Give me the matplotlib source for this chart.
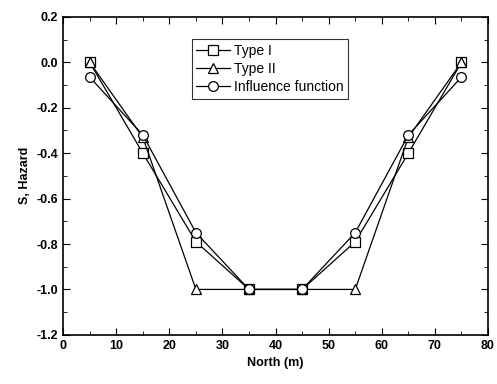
import matplotlib
matplotlib.use('Agg')
import matplotlib.pyplot as plt
from matplotlib.ticker import MultipleLocator

# Distanza lungo la sezione (m)
north = [5, 15, 25, 35, 45, 55, 65, 75]
# Valori
type_1 = [0.0, -0.40, -0.79, -1.0, -1.0, -0.79, -0.40, 0.0]
type_2 = [0.0, -0.33, -1.0, -1.0, -1.0, -1.0, -0.33, 0.0]
influence = [-0.065, -0.32, -0.75, -1.0, -1.0, -0.75, -0.32, -0.065]

plt.rcParams['font.family'] = ['Liberation Sans', 'DejaVu Sans']

fig = plt.figure(figsize=(4.97, 3.84), dpi=100)
ax = fig.add_axes([0.127, 0.128, 0.855, 0.828])

style = dict(color='black', lw=0.9, mfc='white', mec='black', mew=0.9, ms=7)
ax.plot(north, type_1, marker='s', label='Type I', **style)
ax.plot(north, type_2, marker='^', label='Type II', **style)
ax.plot(north, influence, marker='o', label='Influence function', **style)

ax.set_xlim(0, 80)
ax.set_ylim(-1.2, 0.2)
ax.xaxis.set_major_locator(MultipleLocator(10))
ax.xaxis.set_minor_locator(MultipleLocator(5))
ax.yaxis.set_major_locator(MultipleLocator(0.2))
ax.yaxis.set_minor_locator(MultipleLocator(0.1))
ax.yaxis.set_major_formatter(plt.FormatStrFormatter('%.1f'))
ax.tick_params(which='both', direction='in', top=True, right=True, labelsize=9)
ax.tick_params(which='major', length=5)
ax.tick_params(which='minor', length=3)
for lab in ax.get_xticklabels() + ax.get_yticklabels():
    lab.set_fontweight('bold')
for sp in ax.spines.values():
    sp.set_linewidth(1.2)

ax.set_xlabel('North (m)', fontsize=9, fontweight='bold')
ax.set_ylabel('S, Hazard', fontsize=9, fontweight='bold')

leg = ax.legend(loc='upper left', bbox_to_anchor=(0.286, 0.953), fontsize=10,
                frameon=True, fancybox=False, edgecolor='black',
                handlelength=2.4, borderpad=0.35, labelspacing=0.3, handletextpad=0.3)
leg.get_frame().set_linewidth(0.8)

fig.savefig('out.png', dpi=100)
